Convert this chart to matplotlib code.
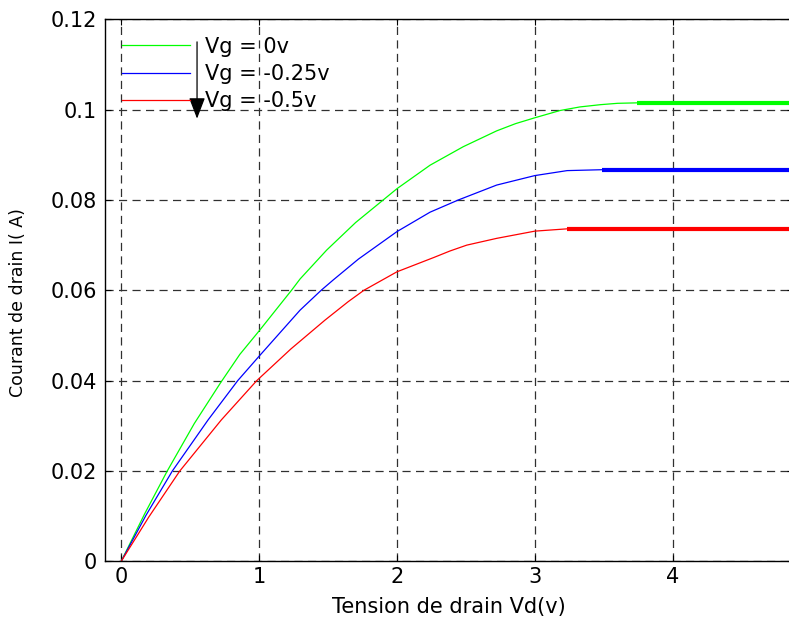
import matplotlib
matplotlib.use("Agg")
import matplotlib.pyplot as plt

# ---- data ----
green_vd = [0, 0.17, 0.334, 0.53, 0.72, 0.86, 1.0, 1.235, 1.297, 1.49, 1.70, 1.90, 2.0, 2.24,
            2.481, 2.723, 2.86, 3.0, 3.182, 3.327, 3.476, 3.6, 3.74]
green_i = [0, 0.0105, 0.02, 0.0305, 0.0395, 0.0458, 0.0510, 0.060, 0.0625, 0.0689, 0.0750, 0.080,
           0.0825, 0.0877, 0.0918, 0.0953, 0.0969, 0.0982, 0.0998, 0.1006, 0.1011, 0.1014, 0.1015]

blue_vd = [0, 0.18, 0.371, 0.63, 0.845, 1.0, 1.297, 1.45, 1.538, 1.72, 2.0, 2.24, 2.445, 2.723,
           3.0, 3.234, 3.49]
blue_i = [0, 0.0102, 0.02, 0.0313, 0.040, 0.0454, 0.0556, 0.060, 0.0623, 0.0669, 0.073, 0.0773,
          0.080, 0.0833, 0.0854, 0.0865, 0.0867]

red_vd = [0, 0.2, 0.425, 0.726, 0.983, 1.23, 1.478, 1.647, 1.76, 2.0, 2.27, 2.384, 2.506, 2.723,
          3.0, 3.23]
red_i = [0, 0.0098, 0.02, 0.0313, 0.040, 0.047, 0.0534, 0.0575, 0.060, 0.0641, 0.0673, 0.0687,
         0.0700, 0.0715, 0.0731, 0.0736]

sat_vd_end = 4.9
labels = ["Vg = 0v", "Vg = -0.25v", "Vg = -0.5v"]
colors = ["#00ff00", "#0000ff", "#ff0000"]

xticks = [0, 1, 2, 3, 4]
yticks = [0, 0.02, 0.04, 0.06, 0.08, 0.1, 0.12]
ytick_labels = ["0", "0.02", "0.04", "0.06", "0.08", "0.1", "0.12"]

plt.rcParams['font.family'] = ['DejaVu Sans']

fig = plt.figure(figsize=(7.89, 6.22), dpi=100)
ax = fig.add_axes([105 / 789, 1 - 561.3 / 622, (793 - 105) / 789, (561.3 - 19.3) / 622])

series = [(green_vd, green_i), (blue_vd, blue_i), (red_vd, red_i)]
handles = []
for (vd, cur), c, lab in zip(series, colors, labels):
    h, = ax.plot(vd, cur, color=c, lw=0.9, label=lab)
    handles.append(h)
    ax.plot([vd[-1], sat_vd_end], [cur[-1], cur[-1]], color=c, lw=3.0,
            solid_capstyle='butt')

ax.set_xlim(-0.1175, 4.872)
ax.set_ylim(0, 0.12)
ax.set_xticks(xticks)
ax.set_yticks(yticks)
ax.set_yticklabels(ytick_labels)
ax.tick_params(direction='in', length=4, width=0.8, top=True, right=True,
               labelsize=15, colors='black')
ax.tick_params(axis='y', pad=6)
ax.tick_params(axis='x', pad=4)
ax.grid(True, color='#303030', lw=0.9, linestyle=(0, (6.5, 4.3)))
for s in ax.spines.values():
    s.set_linewidth(1.0)
    s.set_color('black')

ax.set_xlabel("Tension de drain Vd(v)", fontsize=15, labelpad=7)
ax.set_ylabel("Courant de drain I( A)", fontsize=12.5)
ax.yaxis.set_label_coords(-0.113, 0.4766)

leg = ax.legend(handles=handles, labels=labels, loc='upper left',
                bbox_to_anchor=(0.0247, 0.968), frameon=False, fontsize=15,
                handlelength=3.27, handletextpad=0.72, labelspacing=0.35,
                borderaxespad=0.0, borderpad=0.0)

ax.annotate("", xy=(0.55, 0.0980), xytext=(0.55, 0.115),
            arrowprops=dict(arrowstyle='-|>,head_length=1.3,head_width=0.5',
                            color='black', lw=0.9, shrinkA=0, shrinkB=0))

fig.savefig("out.png", dpi=100)
